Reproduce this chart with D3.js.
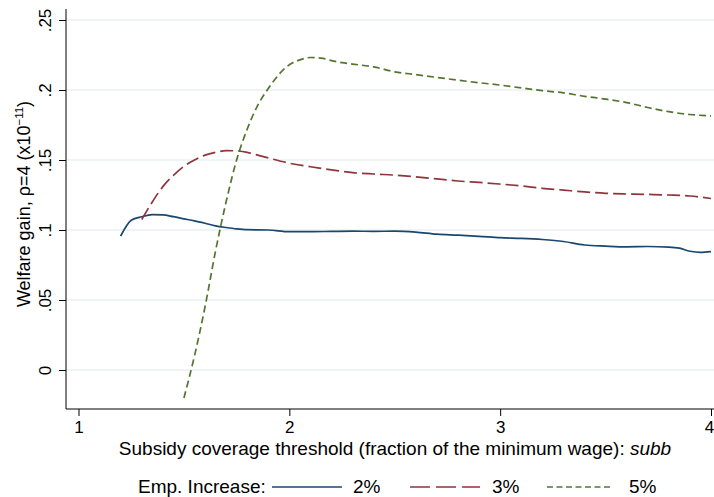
<!DOCTYPE html>
<html>
<head>
<meta charset="utf-8">
<script src="https://cdn.jsdelivr.net/npm/d3@7/dist/d3.min.js"></script>
<style>
  html, body { margin: 0; padding: 0; background: #fff; }
  svg { display: block; font-family: "Liberation Sans", Arial, Helvetica, sans-serif; }
</style>
</head>
<body>
<svg id="chart" width="714" height="497"></svg>
<script>
// Welfare gain by subsidy coverage threshold, for three employment increases
const subb2 = [1.2, 1.25, 1.3, 1.35, 1.4, 1.45, 1.5, 1.55, 1.6, 1.65, 1.7, 1.75, 1.8, 1.9, 2.0, 2.1, 2.2, 2.3, 2.4, 2.5, 2.6, 2.7, 2.8, 2.9, 3.0, 3.1, 3.2, 3.3, 3.4, 3.5, 3.6, 3.7, 3.8, 3.85, 3.9, 3.95, 4.0];
const gain2 = [0.0957, 0.107, 0.1095, 0.111, 0.1108, 0.1095, 0.108, 0.1065, 0.1048, 0.103, 0.1018, 0.1008, 0.1002, 0.1, 0.0988, 0.0988, 0.099, 0.0992, 0.099, 0.0992, 0.0985, 0.097, 0.0963, 0.0955, 0.0945, 0.094, 0.0932, 0.0918, 0.0893, 0.0885, 0.088, 0.0882, 0.0878, 0.087, 0.0848, 0.084, 0.0845];

const subb3 = [1.3, 1.35, 1.4, 1.45, 1.5, 1.55, 1.6, 1.65, 1.7, 1.75, 1.8, 1.85, 1.9, 2.0, 2.1, 2.2, 2.3, 2.4, 2.5, 2.6, 2.7, 2.8, 2.9, 3.0, 3.1, 3.2, 3.3, 3.4, 3.5, 3.6, 3.7, 3.8, 3.9, 4.0];
const gain3 = [0.1075, 0.12, 0.131, 0.139, 0.1455, 0.15, 0.1535, 0.1555, 0.1567, 0.1565, 0.1555, 0.1535, 0.1515, 0.1477, 0.1452, 0.143, 0.141, 0.14, 0.1392, 0.138, 0.1365, 0.135, 0.134, 0.1328, 0.1315, 0.1298, 0.1285, 0.1272, 0.1262, 0.1257, 0.1254, 0.125, 0.1243, 0.1225];

const subb5 = [1.5, 1.55, 1.6, 1.65, 1.7, 1.75, 1.8, 1.85, 1.9, 1.95, 2.0, 2.05, 2.1, 2.15, 2.2, 2.25, 2.3, 2.4, 2.5, 2.6, 2.7, 2.8, 2.9, 3.0, 3.1, 3.2, 3.3, 3.4, 3.5, 3.6, 3.7, 3.8, 3.9, 4.0];
const gain5 = [-0.02, 0.01, 0.045, 0.085, 0.12, 0.15, 0.172, 0.189, 0.201, 0.211, 0.218, 0.2215, 0.2232, 0.2228, 0.221, 0.2195, 0.2185, 0.2165, 0.213, 0.211, 0.209, 0.207, 0.2052, 0.2035, 0.2015, 0.1995, 0.198, 0.1955, 0.1935, 0.191, 0.1875, 0.1845, 0.1825, 0.1815];

const xTicks = [1, 2, 3, 4];
const yTicks = [0, 0.05, 0.1, 0.15, 0.2, 0.25];
const yTickLabels = ["0", ".05", ".1", ".15", ".2", ".25"];

const seriesNames = ["2%", "3%", "5%"];
const seriesColors = ["#1a476f", "#90353b", "#55752f"];
const seriesDash = [null, "13,5", "7,4"];
const legendDash = [null, "20,6", "6,3.5"];

const svg = d3.select("#chart");

// plot region
const plotLeft = 66, plotBottom = 409, plotTop = 9, plotRight = 714;
const x = d3.scaleLinear().domain([1, 4]).range([78.5, 711]);
const y = d3.scaleLinear().domain([0, 0.25]).range([370, 20]);

// grid lines
svg.append("g").selectAll("line").data(yTicks).join("line")
  .attr("x1", plotLeft).attr("x2", plotRight)
  .attr("y1", d => y(d)).attr("y2", d => y(d))
  .attr("stroke", "#eaf2f3").attr("stroke-width", 1.5);

// y axis with vertical tick labels
const yAxis = d3.axisLeft(y).tickValues(yTicks)
  .tickFormat((d, i) => yTickLabels[i]).tickSize(7);
const gy = svg.append("g").attr("transform", `translate(${plotLeft},0)`).call(yAxis);
gy.select(".domain").remove();
gy.selectAll(".tick line").attr("stroke", "#000");
gy.selectAll(".tick text")
  .attr("x", 0).attr("y", 0).attr("dy", null)
  .attr("transform", "translate(-15,0) rotate(-90)")
  .attr("text-anchor", "middle")
  .attr("font-size", 17)
  .attr("font-family", "Liberation Sans, Arial, sans-serif")
  .attr("fill", "#000");
svg.append("line").attr("x1", plotLeft).attr("x2", plotLeft).attr("y1", plotTop).attr("y2", plotBottom)
  .attr("stroke", "#000").attr("stroke-width", 1);

// x axis
const xAxis = d3.axisBottom(x).tickValues(xTicks).tickFormat(d3.format("d")).tickSize(7).tickPadding(5);
const gx = svg.append("g").attr("transform", `translate(0,${plotBottom})`).call(xAxis);
gx.select(".domain").remove();
gx.selectAll(".tick line").attr("stroke", "#000");
gx.selectAll(".tick text").attr("font-size", 17)
  .attr("font-family", "Liberation Sans, Arial, sans-serif").attr("fill", "#000")
  .attr("dx", d => d === 4 ? -2 : 0);
svg.append("line").attr("x1", plotLeft).attr("x2", plotRight).attr("y1", plotBottom).attr("y2", plotBottom)
  .attr("stroke", "#000").attr("stroke-width", 1);

// series lines
const series = [
  { xs: subb2, ys: gain2 },
  { xs: subb3, ys: gain3 },
  { xs: subb5, ys: gain5 }
];
const line = d3.line().x(d => x(d[0])).y(d => y(d[1])).curve(d3.curveMonotoneX);
series.forEach((s, i) => {
  const pts = s.xs.map((v, j) => [v, s.ys[j]]);
  svg.append("path").datum(pts)
    .attr("d", line)
    .attr("fill", "none")
    .attr("stroke", seriesColors[i])
    .attr("stroke-width", 1.7)
    .attr("stroke-dasharray", seriesDash[i]);
});

// axis titles
svg.append("text")
  .attr("x", 395).attr("y", 455)
  .attr("text-anchor", "middle").attr("font-size", 19).attr("fill", "#000")
  .call(t => {
    t.append("tspan").text("Subsidy coverage threshold (fraction of the minimum wage): ");
    t.append("tspan").attr("font-style", "italic").text("subb");
  });

const yt = svg.append("text")
  .attr("transform", "translate(30,204) rotate(-90)")
  .attr("text-anchor", "middle").attr("font-size", 18).attr("fill", "#000");
yt.append("tspan").text("Welfare gain, \u03C1=4 (x10");
yt.append("tspan").attr("font-size", 11.5).attr("dy", -7.5).text("\u221211");
yt.append("tspan").attr("dy", 7.5).text(")");

// legend
const lg = svg.append("g");
lg.append("text").attr("x", 138).attr("y", 493).attr("font-size", 19).attr("fill", "#000").text("Emp. Increase:");
const legendItems = [
  { x1: 272, x2: 342, tx: 353 },
  { x1: 410, x2: 480, tx: 492 },
  { x1: 547, x2: 613, tx: 629 }
];
legendItems.forEach((it, i) => {
  lg.append("line").attr("x1", it.x1).attr("x2", it.x2).attr("y1", 487).attr("y2", 487)
    .attr("stroke", seriesColors[i]).attr("stroke-width", 1.7)
    .attr("stroke-dasharray", legendDash[i]);
  lg.append("text").attr("x", it.tx).attr("y", 493).attr("font-size", 19).attr("fill", "#000").text(seriesNames[i]);
});
</script>
</body>
</html>
